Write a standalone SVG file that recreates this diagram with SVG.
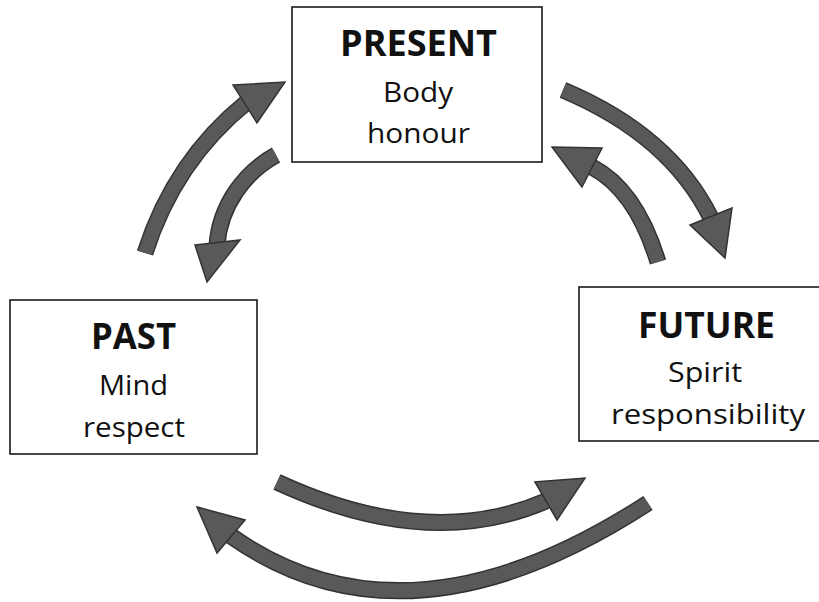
<svg xmlns="http://www.w3.org/2000/svg" width="819" height="602" viewBox="0 0 819 602">
<style>
.box{fill:#fff;stroke:#1a1a1a;stroke-width:1.6}
.t{font-family:"Open Sans","Liberation Sans",sans-serif;fill:#111;text-anchor:middle}
.h{font-weight:bold;font-size:36px}
.s{font-size:28px}
.edge{fill:none;stroke:#333;stroke-width:17;stroke-linecap:butt}
.core{fill:none;stroke:#595959;stroke-width:14;stroke-linecap:butt}
.head{fill:#595959;stroke:#333;stroke-width:1.5;stroke-linejoin:miter}
</style>
<rect width="819" height="602" fill="#fff"/>
<g id="present">
<rect class="box" x="292" y="7" width="250" height="155"/>
<text class="t h" x="418.5" y="56" textLength="157" lengthAdjust="spacingAndGlyphs">PRESENT</text>
<text class="t s" x="418" y="102" textLength="70" lengthAdjust="spacingAndGlyphs">Body</text>
<text class="t s" x="418.5" y="143" textLength="103" lengthAdjust="spacingAndGlyphs">honour</text>
</g>
<g id="past">
<rect class="box" x="10" y="300" width="247" height="154"/>
<text class="t h" x="133.5" y="349" textLength="85" lengthAdjust="spacingAndGlyphs">PAST</text>
<text class="t s" x="133.5" y="395" textLength="69" lengthAdjust="spacingAndGlyphs">Mind</text>
<text class="t s" x="134" y="437" textLength="102" lengthAdjust="spacingAndGlyphs">respect</text>
</g>
<g id="future">
<rect class="box" x="579" y="287" width="260" height="154"/>
<text class="t h" x="706.5" y="338" textLength="137" lengthAdjust="spacingAndGlyphs">FUTURE</text>
<text class="t s" x="705" y="382" textLength="74" lengthAdjust="spacingAndGlyphs">Spirit</text>
<text class="t s" x="708" y="424" textLength="194" lengthAdjust="spacingAndGlyphs">responsibility</text>
</g>
<g id="connectors">
<path class="edge" d="M145,253 C165,190 200,140 247,102"/>
<path class="core" d="M145,253 C165,190 200,140 247,102"/>
<polygon class="head" points="233,85 285,82 257,123"/>
<path class="edge" d="M276,155 C245,172 220,205 217,245"/>
<path class="core" d="M276,155 C245,172 220,205 217,245"/>
<polygon class="head" points="195,245 240,240 207,282"/>
<path class="edge" d="M563,90 Q670,135 711,218"/>
<path class="core" d="M563,90 Q670,135 711,218"/>
<polygon class="head" points="690,225 732,208 725,258"/>
<path class="edge" d="M658,262 Q636,190 592,167"/>
<path class="core" d="M658,262 Q636,190 592,167"/>
<polygon class="head" points="582,187 602,148 552,147"/>
<path class="edge" d="M277,482 Q428,552 546,501"/>
<path class="core" d="M277,482 Q428,552 546,501"/>
<polygon class="head" points="535,482 557,520 585,478"/>
<path class="edge" d="M648,503 Q407,660 231,536"/>
<path class="core" d="M648,503 Q407,660 231,536"/>
<polygon class="head" points="245,520 217,553 197,507"/>
</g>
</svg>
